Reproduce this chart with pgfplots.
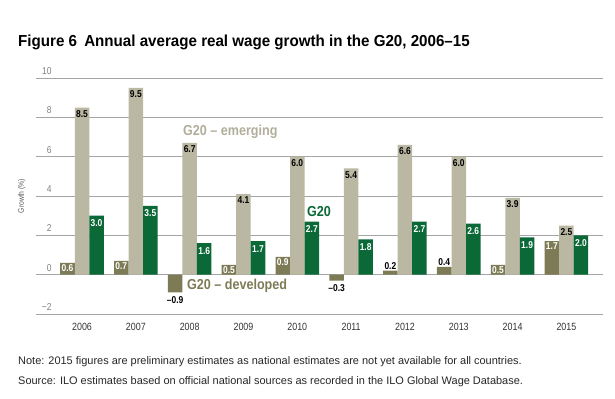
\documentclass[border=0pt]{standalone}
\usepackage{pgfplots}
\pgfplotsset{compat=1.18}
\usepackage{fontspec}
\setmainfont{Liberation Sans}
\newfontfamily\cond[FakeStretch=0.85]{Liberation Sans}
\newfontfamily\titlefont[FakeStretch=0.95]{Liberation Sans}
\newfontfamily\annfont[FakeStretch=0.87]{Liberation Sans}
\definecolor{dev}{RGB}{125,123,85}
\definecolor{emg}{RGB}{186,183,163}
\definecolor{gtw}{RGB}{10,105,55}
\definecolor{gridc}{RGB}{165,165,165}
\begin{document}
\begin{tikzpicture}[x=1bp,y=1bp]
\path[use as bounding box] (-36,-84) rectangle (579,314);
\node[anchor=west, inner sep=0, font=\titlefont\bfseries\fontsize{16}{18}\selectfont] at (-18,272)
  {Figure 6\hspace{0.45em}Annual average real wage growth in the G20, 2006\textendash15};
\begin{axis}[
  scale only axis,
  width=567bp, height=236bp,
  xmin=-0.855, xmax=9.68, ymin=-2, ymax=10,
  clip=false,
  axis line style={draw=none},
  major tick length=0pt,
  ytick={-2,0,2,4,6,8,10},
  yticklabels={−2,0,2,4,6,8,10},
  ymajorgrids, grid style={gridc, line width=0.9bp},
  xtick={0,...,9},
  xticklabels={2006,2007,2008,2009,2010,2011,2012,2013,2014,2015},
  xticklabel style={font=\cond\fontsize{10.5}{12}\selectfont, text=black!80, yshift=-6bp},
  yticklabel style={font=\cond\fontsize{10}{12}\selectfont, text=black!50, anchor=south east, xshift=19bp, yshift=0bp},
  ylabel={Growth (\%)},
  every axis y label/.style={at={(axis description cs:-0.025,0.5)}, rotate=90, anchor=center,
    font=\cond\fontsize{8}{10}\selectfont, text=black!65},
  /pgf/number format/.cd, fixed, zerofill, precision=1, assume math mode=true,
]
% G20 developed
\addplot[ybar, bar width=0.27, bar shift=-0.27, fill=dev, draw=none]
  coordinates {(0,0.6) (1,0.7) (2,-0.9) (3,0.5) (4,0.9) (5,-0.3) (6,0.2) (7,0.4) (8,0.5) (9,1.7)};
% labels of developed: white inside
\addplot[ybar, bar width=0.27, bar shift=-0.27, fill=none, draw=none, forget plot,
  nodes near coords,
  every node near coord/.append style={anchor=north, text=white, inner sep=1bp, yshift=-0.5bp, xshift=-14.53bp,
    font=\cond\bfseries\fontsize{10}{11}\selectfont}]
  coordinates {(0,0.6) (1,0.7) (3,0.5) (4,0.9) (8,0.5) (9,1.7)};
% labels of developed: black above
\addplot[ybar, bar width=0.27, bar shift=-0.27, fill=none, draw=none, forget plot,
  nodes near coords,
  every node near coord/.append style={anchor=south, text=black, inner sep=1bp, yshift=0bp, xshift=-14.53bp,
    font=\cond\bfseries\fontsize{10}{11}\selectfont}]
  coordinates {(6,0.2) (7,0.4)};
% labels of developed: black below (negative)
\addplot[ybar, bar width=0.27, bar shift=-0.27, fill=none, draw=none, forget plot,
  point meta=explicit symbolic,
  nodes near coords,
  every node near coord/.append style={anchor=north, text=black, inner sep=1bp, yshift=-3bp, xshift=-14.53bp,
    font=\cond\bfseries\fontsize{10}{11}\selectfont}]
  coordinates {(2,-0.9) [\textendash0.9] (5,-0.3) [\textendash0.3]};
% G20 emerging
\addplot[ybar, bar width=0.27, bar shift=0, fill=emg, draw=none,
  nodes near coords,
  every node near coord/.append style={anchor=north, text=black, inner sep=1bp, yshift=-1.5bp,
    font=\cond\bfseries\fontsize{10}{11}\selectfont}]
  coordinates {(0,8.5) (1,9.5) (2,6.7) (3,4.1) (4,6.0) (5,5.4) (6,6.6) (7,6.0) (8,3.9) (9,2.5)};
% G20
\addplot[ybar, bar width=0.27, bar shift=0.27, fill=gtw, draw=none,
  nodes near coords,
  every node near coord/.append style={anchor=north, text=white, inner sep=1bp, yshift=-3bp, xshift=14.53bp,
    font=\cond\bfseries\fontsize{10}{11}\selectfont}]
  coordinates {(0,3.0) (1,3.5) (2,1.6) (3,1.7) (4,2.7) (5,1.8) (6,2.7) (7,2.6) (8,1.9) (9,2.0)};
\end{axis}
\node[anchor=west, inner sep=0, text=emg!95!black, font=\annfont\bfseries\fontsize{14.5}{16}\selectfont] at (147,182) {G20 \textendash\ emerging};
\node[anchor=west, inner sep=0, text=gtw, font=\annfont\bfseries\fontsize{14.5}{16}\selectfont] at (271,102) {G20};
\node[anchor=west, inner sep=0, text=dev, font=\annfont\bfseries\fontsize{14.5}{16}\selectfont] at (151,28) {G20 \textendash\ developed};
\node[anchor=west, inner sep=0, text=black!85, font=\fontsize{11}{13}\selectfont] at (-18,-48)
  {Note: 2015 figures are preliminary estimates as national estimates are not yet available for all countries.};
\node[anchor=west, inner sep=0, text=black!85, font=\fontsize{11}{13}\selectfont] at (-18,-68)
  {Source: ILO estimates based on official national sources as recorded in the ILO Global Wage Database.};
\end{tikzpicture}
\end{document}
